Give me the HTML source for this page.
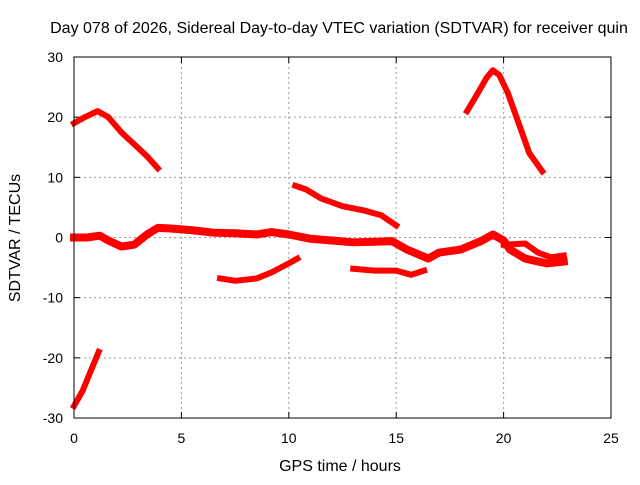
<!DOCTYPE html>
<html><head><meta charset="utf-8"><style>
body{margin:0;background:#fff}
svg text{font-family:"Liberation Sans",sans-serif;font-size:14px;fill:#000}
svg text.big{font-size:16px}
</style></head><body>
<svg id="chart" width="640" height="480" viewBox="0 0 640 480" xmlns="http://www.w3.org/2000/svg">
<text class="big" x="339" y="33" text-anchor="middle">Day 078 of 2026, Sidereal Day-to-day VTEC variation (SDTVAR) for receiver quin</text>
<g id="grid"></g>
<g id="ticks"></g>
<g id="series"></g>
<rect x="74" y="57" width="537" height="361" fill="none" stroke="#000" stroke-width="1"/>
<text class="big" x="340" y="471" text-anchor="middle">GPS time / hours</text>
<text class="big" transform="translate(20,238) rotate(-90)" text-anchor="middle">SDTVAR / TECUs</text>
</svg>
<script>
const xTicks=[0,5,10,15,20,25];
const yTicks=[-30,-20,-10,0,10,20,30];
const segA=[[0,19],[0.5,20],[1.1,21],[1.6,20],[2.2,17.5],[2.8,15.5],[3.4,13.5],[3.9,11.5]];
const segB=[[0,-28],[0.4,-25.5],[0.8,-22],[1.15,-19]];
const segMain=[[0,0],[0.6,0],[1.2,0.3],[1.6,-0.5],[2.2,-1.5],[2.8,-1.2],[3.4,0.5],[3.9,1.6],[4.5,1.5],[5.5,1.2],[6.5,0.8],[7.5,0.7],[8.5,0.5],[9.2,0.9],[10,0.5],[11,-0.2],[12,-0.5],[13,-0.8],[14,-0.7],[14.8,-0.6],[15.5,-2],[16.5,-3.5],[17,-2.5],[18,-2],[19,-0.5],[19.5,0.5],[20,-0.5],[20.3,-2],[21,-3.5],[22,-4.3],[22.8,-4]];
const segBranch=[[20,-1.2],[21,-1],[21.6,-2.5],[22.2,-3.3],[22.8,-3]];
const segC=[[6.8,-6.8],[7.5,-7.2],[8.5,-6.8],[9.2,-5.8],[10,-4.3],[10.4,-3.5]];
const segD=[[10.3,8.6],[10.8,8],[11.5,6.5],[12.5,5.2],[13.5,4.5],[14.3,3.7],[15,2]];
const segE=[[13,-5.2],[14,-5.5],[15,-5.5],[15.7,-6.2],[16.3,-5.5]];
const segF=[[18.3,21],[18.8,24],[19.2,26.5],[19.5,27.8],[19.8,27],[20.2,24],[20.7,19],[21.2,14],[21.8,11]];
const segments=[segA,segB,segMain,segBranch,segC,segD,segE,segF];
const segNames=['series-early-peak','series-early-rise','series-main','series-branch','series-dip','series-mid-decline','series-low-flat','series-late-peak'];
const segWidths=[6,6,8,6,6,6,6,6];
const X=h=>74+h*537/25, Y=v=>237.5-v*361/60;
const NS='http://www.w3.org/2000/svg';
const grid=document.getElementById('grid'),ticks=document.getElementById('ticks'),ser=document.getElementById('series');
function mk(t,a,p){const e=document.createElementNS(NS,t);for(const k in a)e.setAttribute(k,a[k]);p.appendChild(e);return e;}
xTicks.forEach(t=>{
 const x=X(t);
 if(t>0&&t<25){const g=mk('line',{x1:x,x2:x,y1:57,y2:418,stroke:'#999','stroke-dasharray':'2,3'},grid);
 
 }
 mk('line',{x1:x,x2:x,y1:418,y2:412,stroke:'#000'},ticks);
 mk('line',{x1:x,x2:x,y1:57,y2:63,stroke:'#000'},ticks);
 const l=mk('text',{x:x,y:443,'text-anchor':'middle'},ticks);l.textContent=t;
 
 
});
yTicks.forEach(t=>{
 const y=Y(t);
 if(t>-30&&t<30){const g=mk('line',{x1:74,x2:611,y1:y,y2:y,stroke:'#999','stroke-dasharray':'2,3'},grid);
 
 }
 mk('line',{x1:74,x2:80,y1:y,y2:y,stroke:'#000'},ticks);
 mk('line',{x1:611,x2:605,y1:y,y2:y,stroke:'#000'},ticks);
 const l=mk('text',{x:63,y:y+5,'text-anchor':'end'},ticks);l.textContent=t;
 
 
});
segments.forEach((s,i)=>{
 const p=mk('polyline',{points:s.map(d=>X(d[0])+','+Y(d[1])).join(' '),fill:'none',stroke:'#f00','stroke-width':segWidths[i],'stroke-linejoin':'round','stroke-linecap':'square'},ser);
 
 
});
</script>
</body></html>
